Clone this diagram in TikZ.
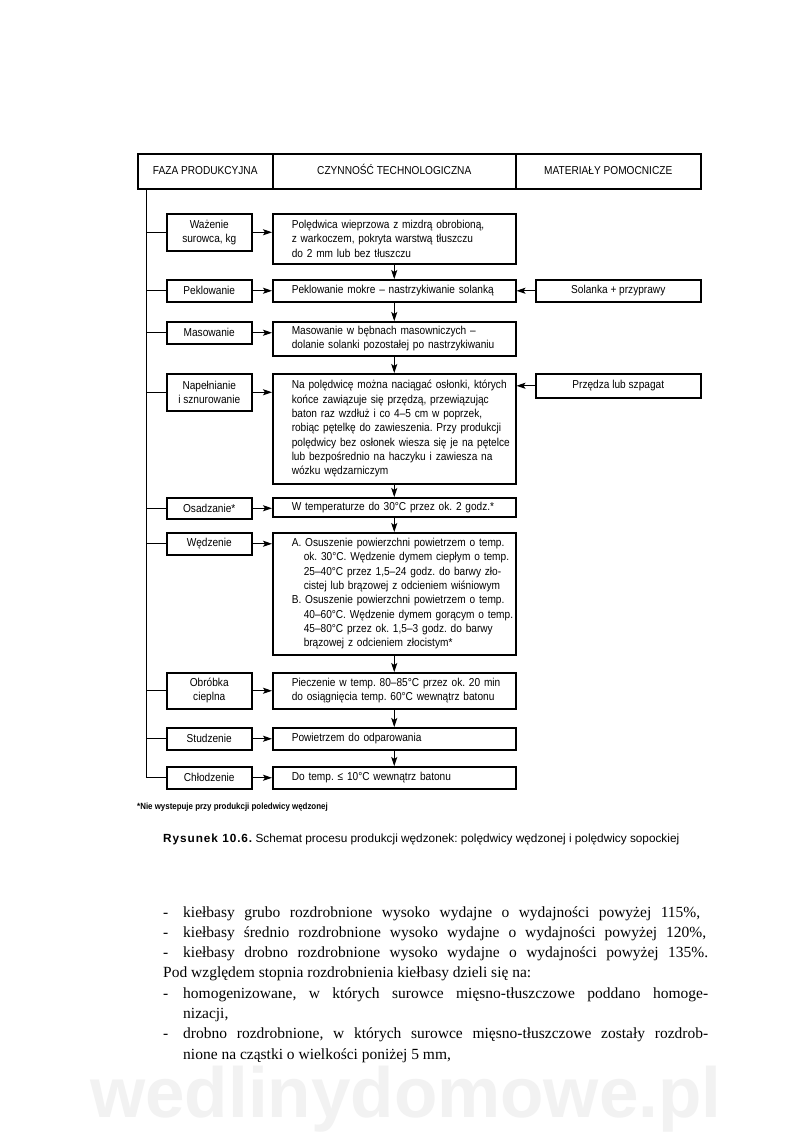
\documentclass[tikz,border=0pt]{standalone}
\usepackage{fontspec}
\setmainfont{Liberation Serif}
\newfontfamily\diag{Liberation Sans}[FakeStretch=0.88]
\newfontfamily\capf{Liberation Sans}
\newfontfamily\capb{Liberation Sans}[LetterSpace=8]
\usetikzlibrary{arrows.meta}
\newcommand\Ln[1]{\hspace*{19pt}\mbox{#1}}
\newcommand\HI{\hspace*{12pt}}
\begin{document}
\frenchspacing
\begin{tikzpicture}[x=1pt,y=-1pt,
  box/.style={draw, line width=1.5pt, inner sep=0pt, font=\diag\fontsize{11.5}{14.3}\selectfont},
  hbox/.style={box, anchor=north west, minimum height=35pt, text height=8.5pt, text depth=2.5pt},
  lbox/.style={box, anchor=north west, minimum width=85pt, align=center},
  mbox/.style={box, anchor=north west, text width=243pt, align=left},
  rbox/.style={box, anchor=north west, minimum width=165pt, align=center},
  arr/.style={line width=0.9pt, -{Stealth[length=9pt,width=6pt,inset=2pt]}},
  link/.style={line width=0.9pt},
  body/.style={anchor=base west, inner sep=0pt, font=\fontsize{15.5}{20}\selectfont}
]
\useasboundingbox (0,0) rectangle (800,1141);
\fill[white] (0,0) rectangle (800,1141);

% watermark
\node[anchor=base west, inner sep=0pt, text=black!5, font=\capf\bfseries\fontsize{71}{71}\selectfont] (wm) at (90,1117) {wedlinydomowe.pl};

% header
\node[hbox, minimum width=135pt] (H1) at (137,153) {FAZA PRODUKCYJNA};
\node[hbox, minimum width=243pt] (H2) at (272,153) {CZYNNOŚĆ TECHNOLOGICZNA};
\node[hbox, minimum width=185pt] (H3) at (515,153) {MATERIAŁY POMOCNICZE};

% left column
\node[lbox, minimum height=37pt] (L1) at (166,213) {Ważenie\\surowca, kg};
\node[lbox, minimum height=22pt] (L2) at (166,279) {Peklowanie};
\node[lbox, minimum height=22pt] (L3) at (166,321) {Masowanie};
\node[lbox, minimum height=37pt] (L4) at (166,373) {Napełnianie\\i sznurowanie};
\node[lbox, minimum height=21pt] (L5) at (166,497) {Osadzanie*};
\node[lbox, minimum height=22pt] (L6) at (166,532) {Wędzenie};
\node[lbox, minimum height=36pt] (L7) at (166,672) {Obróbka\\cieplna};
\node[lbox, minimum height=22pt] (L8) at (166,727) {Studzenie};
\node[lbox, minimum height=22pt] (L9) at (166,766) {Chłodzenie};

% middle column
\node[mbox, minimum height=50pt] (M1) at (272,213) {\Ln{Polędwica wieprzowa z mizdrą obrobioną,}\\\Ln{z warkoczem, pokryta warstwą tłuszczu}\\\Ln{do 2 mm lub bez tłuszczu}};
\node[mbox, minimum height=22pt] (M2) at (272,279) {\Ln{Peklowanie mokre – nastrzykiwanie solanką}};
\node[mbox, minimum height=34pt] (M3) at (272,321) {\Ln{Masowanie w bębnach masowniczych –}\\\Ln{dolanie solanki pozostałej po nastrzykiwaniu}};
\node[mbox, minimum height=110pt] (M4) at (272,373) {\Ln{Na polędwicę można naciągać osłonki, których}\\\Ln{końce zawiązuje się przędzą, przewiązując}\\\Ln{baton raz wzdłuż i co 4–5 cm w poprzek,}\\\Ln{robiąc pętelkę do zawieszenia. Przy produkcji}\\\Ln{polędwicy bez osłonek wiesza się je na pętelce}\\\Ln{lub bezpośrednio na haczyku i zawiesza na}\\\Ln{wózku wędzarniczym}};
\node[mbox, minimum height=19pt] (M5) at (272,497) {\Ln{W temperaturze do 30°C przez ok. 2 godz.*}};
\node[mbox, minimum height=122pt] (M6) at (272,532) {\Ln{A. Osuszenie powierzchni powietrzem o temp.}\\\Ln{\HI ok. 30°C. Wędzenie dymem ciepłym o temp.}\\\Ln{\HI 25–40°C przez 1,5–24 godz. do barwy zło-}\\\Ln{\HI cistej lub brązowej z odcieniem wiśniowym}\\\Ln{B. Osuszenie powierzchni powietrzem o temp.}\\\Ln{\HI 40–60°C. Wędzenie dymem gorącym o temp.}\\\Ln{\HI 45–80°C przez ok. 1,5–3 godz. do barwy}\\\Ln{\HI brązowej z odcieniem złocistym*}};
\node[mbox, minimum height=36pt] (M7) at (272,672) {\Ln{Pieczenie w temp. 80–85°C przez ok. 20 min}\\\Ln{do osiągnięcia temp. 60°C wewnątrz batonu}};
\node[mbox, minimum height=22pt] (M8) at (272,727) {\Ln{Powietrzem do odparowania}};
\node[mbox, minimum height=22pt] (M9) at (272,766) {\Ln{Do temp. ≤ 10°C wewnątrz batonu}};

% right column
\node[rbox, minimum height=22pt] (R1) at (535,279) {Solanka + przyprawy};
\node[rbox, minimum height=24pt] (R2) at (535,373) {Przędza lub szpagat};

% trunk
\coordinate (T) at (146,188);
\draw[link] (T) |- (L9.west);
\foreach \i in {1,...,8} { \draw[link] (T |- L\i.west) -- (L\i.west); }

% phase -> activity arrows
\foreach \i in {1,...,9} { \draw[arr] (L\i.east) -- (L\i.east -| M\i.west); }

% vertical flow arrows
\foreach \a/\b in {1/2,2/3,3/4,4/5,5/6,6/7,7/8,8/9} { \draw[arr] (M\a.south) -- (M\b.north); }

% materials arrows
\draw[arr] (R1.west) -- (R1.west -| M2.east);
\draw[arr] (R2.west) -- (R2.west -| M4.east);

% footnote and caption
\node[anchor=base west, inner sep=0pt, font=\diag\bfseries\fontsize{9}{10}\selectfont] (fn) at (137,809) {*Nie wystepuje przy produkcji poledwicy wędzonej};
\node[anchor=base west, inner sep=0pt, font=\capf\fontsize{11.8}{13}\selectfont] (cap) at (163,842) {{\capb\bfseries Rysunek 10.6.} Schemat procesu produkcji wędzonek: polędwicy wędzonej i polędwicy sopockiej};

% body text
\node[body] (b1) at (163,917) {\makebox[20pt][l]{-}\makebox[517pt][s]{kiełbasy grubo rozdrobnione wysoko wydajne o wydajności powyżej 115\%,}};
\node[body] (b2) at (163,937.3) {\makebox[20pt][l]{-}\makebox[523pt][s]{kiełbasy średnio rozdrobnione wysoko wydajne o wydajności powyżej 120\%,}};
\node[body] (b3) at (163,957.6) {\makebox[20pt][l]{-}\makebox[525pt][s]{kiełbasy drobno rozdrobnione wysoko wydajne o wydajności powyżej 135\%.}};
\node[body] (b4) at (163,977.9) {Pod względem stopnia rozdrobnienia kiełbasy dzieli się na:};
\node[body] (b5) at (163,998.2) {\makebox[20pt][l]{-}\makebox[525pt][s]{homogenizowane, w których surowce mięsno-tłuszczowe poddano homoge-}};
\node[body] (b6) at (183,1018.5) {nizacji,};
\node[body] (b7) at (163,1038.8) {\makebox[20pt][l]{-}\makebox[525pt][s]{drobno rozdrobnione, w których surowce mięsno-tłuszczowe zostały rozdrob-}};
\node[body] (b8) at (183,1059.1) {nione na cząstki o wielkości poniżej 5 mm,};
\end{tikzpicture}
\end{document}
